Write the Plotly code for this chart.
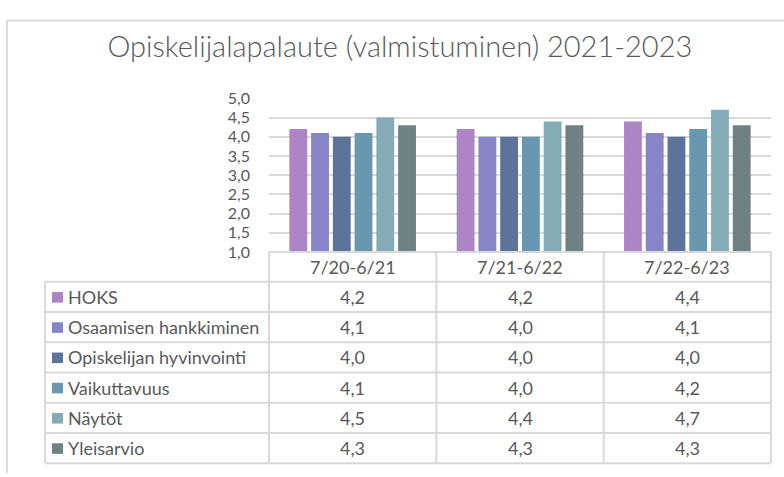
import plotly.graph_objects as go

# ---- data ----
categories = ["7/20-6/21", "7/21-6/22", "7/22-6/23"]
series_names = ["HOKS", "Osaamisen hankkiminen", "Opiskelijan hyvinvointi",
                "Vaikuttavuus", "Näytöt", "Yleisarvio"]
hoks = [4.2, 4.2, 4.4]
osaamisen_hankkiminen = [4.1, 4.0, 4.1]
opiskelijan_hyvinvointi = [4.0, 4.0, 4.0]
vaikuttavuus = [4.1, 4.0, 4.2]
naytot = [4.5, 4.4, 4.7]
yleisarvio = [4.3, 4.3, 4.3]
series_values = [hoks, osaamisen_hankkiminen, opiskelijan_hyvinvointi,
                 vaikuttavuus, naytot, yleisarvio]
colors = ["#AD84C6", "#8784C7", "#5D739A", "#6997AF", "#84ACB6", "#6F8183"]
y_ticks = [1.0, 1.5, 2.0, 2.5, 3.0, 3.5, 4.0, 4.5, 5.0]
title = "Opiskelijalapalaute (valmistuminen) 2021-2023"

W, H = 784, 477
FONT = "Lato"
TXT = "#595959"
GRID = "#D9D9D9"

def px(x):
    return x / W

def py(y):
    return 1 - y / H

# layout pixel geometry
plot_l, plot_r = 269, 771
plot_t, plot_b = 92, 252
table_l = 45
cat_row_b = 283
row_h = 31.5
table_b = cat_row_b + row_h * len(series_names)
col_w = (plot_r - plot_l) / len(categories)

fig = go.Figure()
for name, vals, col in zip(series_names, series_values, colors):
    fig.add_trace(go.Bar(x=categories, y=vals, name=name,
                         marker=dict(color=col, line=dict(width=0)),
                         showlegend=False))

shapes = []
line = dict(color=GRID, width=2)
# outer chart frame
shapes.append(dict(type="line", xref="paper", yref="paper",
                   x0=px(7), x1=px(W + 5), y0=py(11), y1=py(11), line=dict(color=GRID, width=2)))
shapes.append(dict(type="line", xref="paper", yref="paper",
                   x0=px(7), x1=px(7), y0=py(11), y1=py(H + 5), line=dict(color=GRID, width=2)))
# category row top (axis line)
shapes.append(dict(type="line", xref="paper", yref="paper",
                   x0=px(plot_l), x1=px(plot_r), y0=py(plot_b), y1=py(plot_b), line=line))
# horizontal row lines of the data table
for k in range(len(series_names) + 1):
    yy = cat_row_b + row_h * k
    shapes.append(dict(type="line", xref="paper", yref="paper",
                       x0=px(table_l), x1=px(plot_r), y0=py(yy), y1=py(yy), line=line))
# vertical lines
for k in range(len(categories) + 1):
    xx = plot_l + col_w * k
    shapes.append(dict(type="line", xref="paper", yref="paper",
                       x0=px(xx), x1=px(xx), y0=py(plot_b), y1=py(table_b), line=line))
shapes.append(dict(type="line", xref="paper", yref="paper",
                   x0=px(table_l), x1=px(table_l), y0=py(cat_row_b), y1=py(table_b), line=line))

annotations = []
for i, (name, vals, col) in enumerate(zip(series_names, series_values, colors)):
    cy = cat_row_b + row_h * i + row_h / 2
    # legend key square
    shapes.append(dict(type="rect", xref="paper", yref="paper",
                       x0=px(52), x1=px(63), y0=py(cy - 5), y1=py(cy + 6),
                       fillcolor=col, line=dict(width=0)))
    annotations.append(dict(text=name, xref="paper", yref="paper", x=px(66), y=py(cy),
                            xanchor="left", yanchor="middle", showarrow=False,
                            font=dict(family=FONT, size=18, color=TXT)))
    for j, v in enumerate(vals):
        annotations.append(dict(text=f"{v:.1f}".replace(".", ","), xref="x", yref="paper",
                                x=categories[j], y=py(cy), xanchor="center", yanchor="middle",
                                showarrow=False, font=dict(family=FONT, size=18, color=TXT)))
# category labels inside category row
for c in categories:
    annotations.append(dict(text=c, xref="x", yref="paper", x=c, y=py((plot_b + cat_row_b) / 2),
                            xanchor="center", yanchor="middle", showarrow=False,
                            font=dict(family=FONT, size=18, color=TXT)))

fig.update_layout(
    width=W, height=H,
    margin=dict(l=0, r=0, t=0, b=0),
    paper_bgcolor="white", plot_bgcolor="white",
    barmode="group", bargap=0.22, bargroupgap=0.18,
    title=dict(text=title, x=0.51, xanchor="center", y=py(47), yanchor="middle",
               font=dict(family=FONT, size=29, color=TXT, weight=300)),
    xaxis=dict(domain=[px(plot_l), px(plot_r)], showticklabels=False, showgrid=False,
               zeroline=False, showline=False, categoryorder="array", categoryarray=categories),
    yaxis=dict(domain=[py(plot_b), py(plot_t)], range=[1, 5], tickvals=y_ticks,
               ticktext=[f"{t:.1f}".replace(".", ",") for t in y_ticks],
               showgrid=True, gridcolor=GRID, gridwidth=2, zeroline=False, showline=False,
               ticks="", ticklabelstandoff=18,
               tickfont=dict(family=FONT, size=16, color=TXT)),
    shapes=shapes, annotations=annotations,
    font=dict(family=FONT),
)

fig.write_html("out.html", config={"displayModeBar": False},
               post_script="document.body.style.margin='0';document.body.style.overflow='hidden';")
